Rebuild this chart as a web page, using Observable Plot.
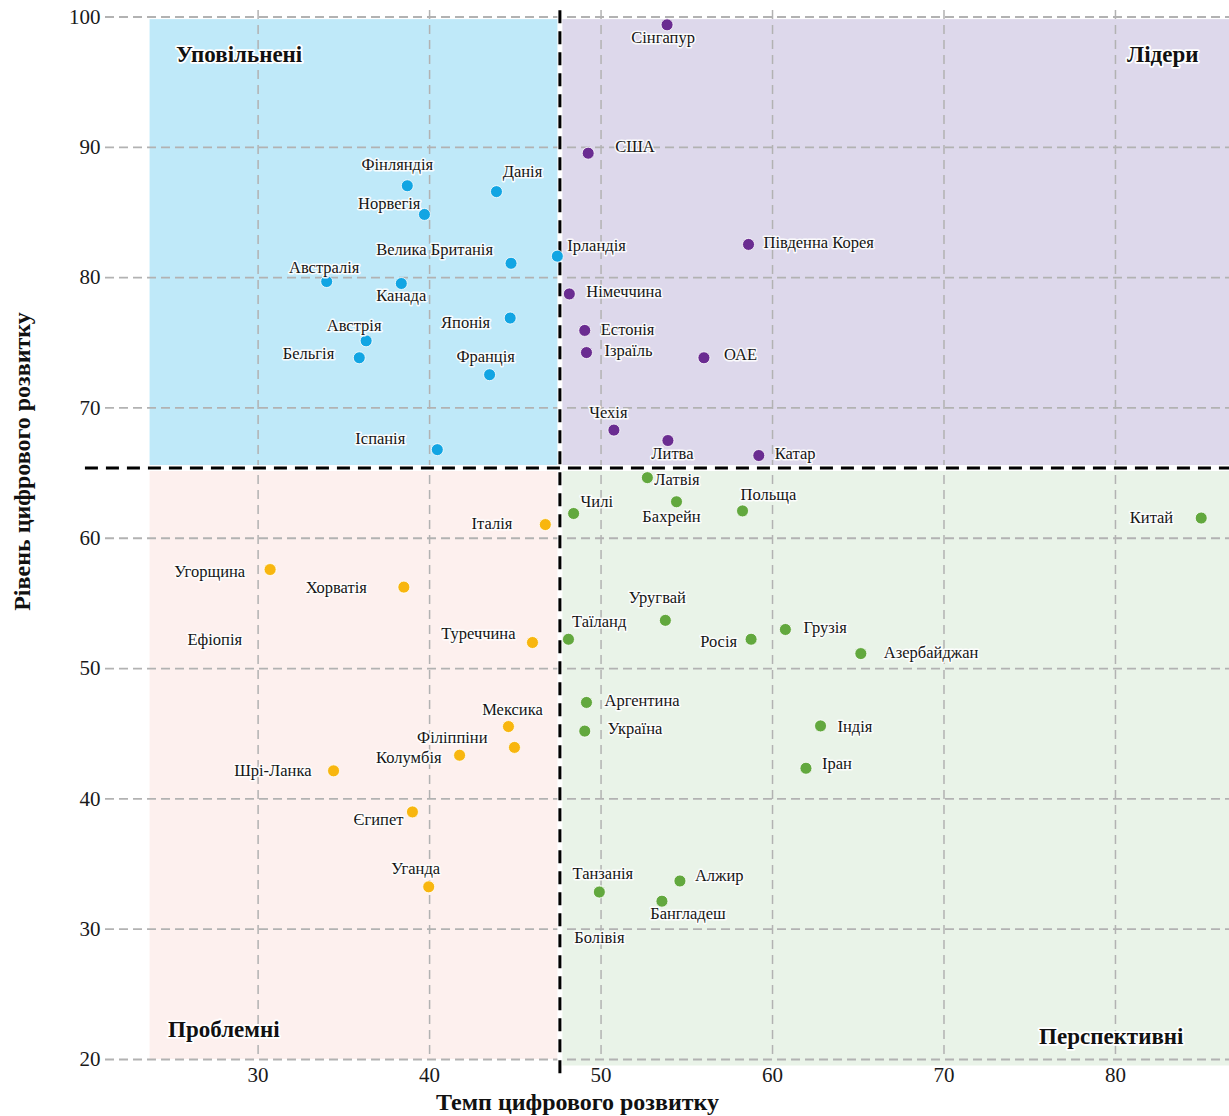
<!DOCTYPE html>
<html>
<head>
<meta charset="utf-8">
<script src="https://cdn.jsdelivr.net/npm/d3@7"></script>
<script src="https://cdn.jsdelivr.net/npm/@observablehq/plot@0.6"></script>
<style>
html, body { margin: 0; padding: 0; background: #fff; }
#chart svg { display: block; }
</style>
</head>
<body>
<div id="chart"></div>
<script>
// ---------- DATA ----------
const countries = [
  "Фінляндія","Данія","Норвегія","Велика Британія","Ірландія","Австралія","Канада","Японія","Австрія","Бельгія","Франція","Іспанія",
  "Сінгапур","США","Південна Корея","Німеччина","Естонія","Ізраїль","ОАЕ","Чехія","Литва","Катар",
  "Латвія","Чилі","Бахрейн","Польща","Китай","Уругвай","Таїланд","Росія","Грузія","Азербайджан","Аргентина","Україна","Індія","Іран","Танзанія","Болівія","Алжир","Бангладеш",
  "Італія","Ефіопія","Угорщина","Хорватія","Туреччина","Мексика","Філіппіни","Колумбія","Шрі-Ланка","Єгипет","Уганда"
];
// Темп цифрового розвитку (x)
const tempo = [
  38.7, 43.9, 39.7, 44.75, 47.45, 34.0, 38.35, 44.7, 36.3, 35.9, 43.5, 40.45,
  53.85, 49.25, 58.6, 48.15, 49.05, 49.15, 56.0, 50.75, 53.9, 59.2,
  52.7, 48.4, 54.4, 58.25, 85.0, 53.75, 48.1, 58.75, 60.75, 65.15, 49.15, 49.05, 62.8, 61.95, 49.9, 49.9, 54.6, 53.55,
  46.75, 30.7, 30.7, 38.5, 46.0, 44.6, 44.95, 41.75, 34.4, 39.0, 39.95
];
// Рівень цифрового розвитку (y)
const level = [
  87.05, 86.6, 84.85, 81.1, 81.65, 79.7, 79.55, 76.9, 75.15, 73.85, 72.55, 66.8,
  99.4, 89.55, 82.55, 78.75, 75.95, 74.25, 73.85, 68.3, 67.5, 66.35,
  64.65, 61.9, 62.8, 62.1, 61.55, 53.7, 52.25, 52.25, 53.0, 51.15, 47.4, 45.2, 45.6, 42.35, 32.9, 32.85, 33.7, 32.15,
  61.05, 57.6, 57.6, 56.25, 52.0, 45.55, 43.95, 43.35, 42.15, 39.0, 33.25
];
const groups = [
  ...Array(12).fill("Уповільнені"),
  ...Array(10).fill("Лідери"),
  ...Array(18).fill("Перспективні"),
  ...Array(11).fill("Проблемні")
];
const groupNames = ["Уповільнені", "Лідери", "Проблемні", "Перспективні"];
const xTicks = [30, 40, 50, 60, 70, 80];
const yTicks = [20, 30, 40, 50, 60, 70, 80, 90, 100];
const tempoThreshold = 47.6;
const levelThreshold = 65.4;
const xAxisTitle = "Темп цифрового розвитку";
const yAxisTitle = "Рівень цифрового розвитку";

// ---------- STYLES ----------
const dotColors = {"Уповільнені": "#12a5e3", "Лідери": "#6a2c91", "Проблемні": "#f8b60f", "Перспективні": "#62a83e"};
const bgColors  = {"Уповільнені": "#bfe9f9", "Лідери": "#ddd8eb", "Проблемні": "#fdf0ee", "Перспективні": "#e9f3e8"};
const bgLeft = 23.7, bgRight = 86.65, bgTop = 99.8;
const quadrants = [
  {name: "Уповільнені",  x1: bgLeft, x2: tempoThreshold, y1: levelThreshold, y2: bgTop},
  {name: "Лідери",       x1: tempoThreshold, x2: bgRight, y1: levelThreshold, y2: bgTop},
  {name: "Проблемні",    x1: bgLeft, x2: tempoThreshold, y1: 20, y2: levelThreshold},
  {name: "Перспективні", x1: tempoThreshold, x2: bgRight, y1: 19.5, y2: levelThreshold}
];
// quadrant label placement: corner, anchor, dx, dy
const quadLabelPlacement = {
  "Уповільнені":  {cx: "x1", cy: "y2", anchor: "start", dx: 26, dy: 35},
  "Лідери":       {cx: "x2", cy: "y2", anchor: "end", dx: -31, dy: 35},
  "Проблемні":    {cx: "x1", cy: "y1", anchor: "start", dx: 18, dy: -30},
  "Перспективні": {cx: "x2", cy: "y1", anchor: "end", dx: -46, dy: -29.5}
};
// country label placement: [anchor, dx, dy]
const labelPlacement = {
  "Фінляндія": ["middle", -10, -21], "Данія": ["middle", 26, -20], "Норвегія": ["end", -4, -11],
  "Велика Британія": ["end", -18, -14], "Ірландія": ["start", 10, -10], "Австралія": ["middle", -2.5, -14],
  "Канада": ["middle", 0, 12], "Японія": ["end", -20, 4.5], "Австрія": ["middle", -12, -15],
  "Бельгія": ["end", -25, -4], "Франція": ["middle", -4, -18], "Іспанія": ["end", -32, -11],
  "Сінгапур": ["middle", -4, 13], "США": ["start", 27, -6], "Південна Корея": ["start", 15, -2],
  "Німеччина": ["start", 17, -2], "Естонія": ["start", 16, -1], "Ізраїль": ["start", 18, -2],
  "ОАЕ": ["start", 20, -3], "Чехія": ["middle", -5.5, -17], "Литва": ["middle", 4.5, 13], "Катар": ["start", 16, -2],
  "Латвія": ["start", 7, 2], "Чилі": ["start", 7, -12], "Бахрейн": ["middle", -5, 15], "Польща": ["start", -2, -16],
  "Китай": ["end", -28, 0], "Уругвай": ["middle", -8, -23], "Таїланд": ["start", 3.5, -18], "Росія": ["end", -14, 2],
  "Грузія": ["start", 18, -2], "Азербайджан": ["start", 23, -1], "Аргентина": ["start", 18, -2], "Україна": ["start", 23, -2],
  "Індія": ["start", 17, 1], "Іран": ["start", 16, -5], "Танзанія": ["middle", 3.5, -18], "Болівія": ["middle", 0, 46],
  "Алжир": ["start", 15, -5], "Бангладеш": ["middle", 26, 13],
  "Італія": ["end", -33, -1], "Ефіопія": ["end", -28, 70], "Угорщина": ["end", -25, 2.5], "Хорватія": ["end", -37, 0.5],
  "Туреччина": ["end", -17, -9], "Мексика": ["middle", 4, -17], "Філіппіни": ["end", -27, -10], "Колумбія": ["end", -18, 2],
  "Шрі-Ланка": ["end", -22, 0], "Єгипет": ["end", -9, 8], "Уганда": ["middle", -13, -18]
};

const serif = "'Liberation Serif', 'Times New Roman', 'DejaVu Serif', serif";
const data = countries.map((c, i) => ({country: c, tempo: tempo[i], level: level[i], group: groups[i]}));

const labelMarks = data.map(d => {
  const [anchor, dx, dy] = labelPlacement[d.country];
  return Plot.text([d], {
    x: "tempo", y: "level", text: "country", textAnchor: anchor, dx, dy,
    fontFamily: serif, fontSize: 16.5, fill: "#151515",
    stroke: "white", strokeWidth: 3, strokeOpacity: 0.9, paintOrder: "stroke"
  });
});

const quadLabelMarks = quadrants.map(q => {
  const p = quadLabelPlacement[q.name];
  return Plot.text([q], {
    x: p.cx, y: p.cy, text: "name", textAnchor: p.anchor, dx: p.dx, dy: p.dy,
    fontFamily: serif, fontSize: 23, fontWeight: "bold", fill: "#111",
    stroke: "white", strokeWidth: 3.5, paintOrder: "stroke"
  });
});

const chart = Plot.plot({
  width: 1229,
  height: 1116,
  marginLeft: 105,
  marginRight: 0,
  marginTop: 10,
  marginBottom: 57,
  style: {background: "#fff", color: "#1a1a1a", fontFamily: serif, overflow: "visible"},
  x: {domain: [21.1, 86.65]},
  y: {domain: [20, 100.5]},
  color: {type: "identity"},
  marks: [
    Plot.rect(quadrants, {x1: "x1", x2: "x2", y1: "y1", y2: "y2", fill: d => bgColors[d.name]}),
    Plot.gridY(yTicks, {stroke: "#b2b2b2", strokeOpacity: 1, strokeWidth: 1.8, strokeDasharray: "9,5"}),
    Plot.gridX(xTicks, {stroke: "#b2b2b2", strokeOpacity: 1, strokeWidth: 1.5, strokeDasharray: "9,6"}),
    Plot.axisY(yTicks, {tickSize: 0, tickPadding: 5, fontSize: 21, fontFamily: serif, label: null}),
    Plot.axisX(xTicks, {tickSize: 0, tickPadding: 8, fontSize: 21, fontFamily: serif, label: null}),
    Plot.ruleY([levelThreshold], {x1: 19.93, x2: 86.65, stroke: "white", strokeWidth: 6}),
    Plot.ruleX([tempoThreshold], {y1: 18.9, y2: 100.6, stroke: "white", strokeWidth: 5}),
    Plot.ruleY([levelThreshold], {x1: 19.93, x2: 86.65, stroke: "black", strokeWidth: 3, strokeDasharray: "13,8"}),
    Plot.ruleX([tempoThreshold], {y1: 18.9, y2: 100.6, stroke: "black", strokeWidth: 3, strokeDasharray: "13,8"}),
    Plot.dot(data, {x: "tempo", y: "level", r: 6, fill: d => dotColors[d.group], stroke: "white", strokeWidth: 0.8}),
    ...labelMarks,
    ...quadLabelMarks,
    Plot.text([xAxisTitle], {frameAnchor: "bottom", lineAnchor: "middle", textAnchor: "middle", dx: -90, dy: 43,
      fontFamily: serif, fontSize: 24, fontWeight: "bold", fill: "#111", stroke: "white", strokeWidth: 2, paintOrder: "stroke"}),
    Plot.text([yAxisTitle], {frameAnchor: "left", lineAnchor: "middle", textAnchor: "middle", rotate: -90, dx: -83.5, dy: -73.5,
      fontFamily: serif, fontSize: 24, fontWeight: "bold", fill: "#111", stroke: "white", strokeWidth: 2, paintOrder: "stroke"})
  ]
});
document.getElementById("chart").appendChild(chart);
</script>
</body>
</html>
